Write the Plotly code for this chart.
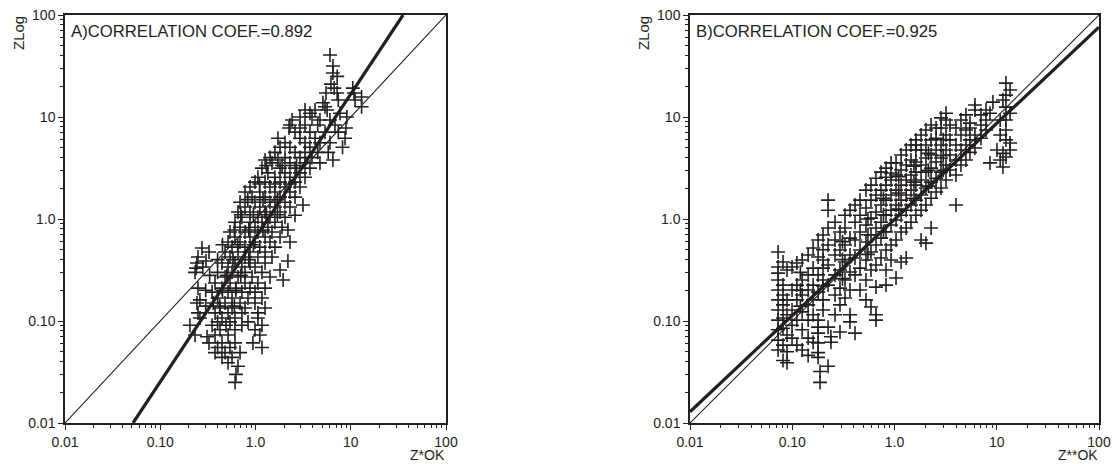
import plotly.graph_objects as go

# ---------------- Panel A data (Z*OK vs ZLog) : rows of equal ZLog ----------------
A_ZLOG = [40.5, 31.6, 27, 25, 21, 19.2, 17.2, 15.7, 14.7, 13.8, 12.6, 11.7, 10.9, 10.0,
          9.35, 8.36, 7.8, 7.1, 6.2, 5.6, 5.05, 4.5, 4.0, 3.79, 3.55, 3.15, 2.83, 2.57,
          2.3, 2.06, 1.84, 1.64, 1.46, 1.37, 1.31, 1.17, 1.09, 1.04, 0.93, 0.83, 0.78,
          0.745, 0.665, 0.595, 0.53, 0.52, 0.475, 0.424, 0.387, 0.37, 0.338, 0.33, 0.316,
          0.30, 0.27, 0.252, 0.236, 0.21, 0.192, 0.168, 0.161, 0.15, 0.134, 0.12, 0.107,
          0.098, 0.091, 0.082, 0.073, 0.07, 0.061, 0.055, 0.049, 0.044, 0.039, 0.036,
          0.030, 0.025,
          3.35, 2.2, 1.55, 1.1, 0.78, 0.56, 0.4, 0.28, 0.2, 0.14]
A_ZOK = [[6.05], [6.5], [6.5], [7.2], [6.2], [6.7, 10.5], [5.5, 7.2, 10.8], [13.0],
         [7.4, 11.1], [5.1], [5.37, 13.0], [5.65, 3.31, 4.22], [3.73, 7.71],
         [2.93, 3.92, 9.1], [2.42, 4.75, 6.05], [2.30, 3.31, 4.5, 6.83], [2.25, 2.93, 8.9],
         [2.60, 3.73, 5.37, 7.4], [1.72, 2.93, 4.22, 8.71], [2.04, 3.31, 4.75, 6.05],
         [1.81, 2.30, 3.73, 8.2], [1.60, 2.60, 3.31, 4.5, 5.8], [1.42, 2.04, 2.93, 3.92],
         [6.5, 1.26, 1.72], [1.49, 2.30, 3.31, 4.75], [1.17, 1.81, 2.60, 3.73],
         [1.35, 2.04, 2.93], [1.06, 1.60, 2.30, 3.31], [0.988, 1.26, 1.81, 2.60],
         [0.876, 1.42, 2.04, 2.93], [0.776, 1.11, 1.60, 2.30], [0.92, 1.26, 1.81, 2.60],
         [0.688, 0.988, 1.42, 2.04], [3.15], [0.776, 1.11, 1.60, 2.30],
         [0.655, 0.876, 1.26, 1.81], [2.60], [0.72, 1.06, 1.42, 2.04],
         [0.609, 0.876, 1.17, 1.60], [0.688, 0.988, 1.35, 1.90], [2.19],
         [0.54, 0.776, 1.06, 1.49], [0.609, 0.876, 1.26, 1.81],
         [0.515, 0.688, 0.988, 1.42, 2.30], [0.567, 0.776, 1.11, 1.60], [0.274],
         [0.325, 0.479, 0.655, 0.876, 1.26], [0.249, 0.54, 0.776, 1.06, 1.49],
         [0.302, 2.19], [0.243, 0.445, 0.609, 0.876, 1.26], [0.28, 0.515, 0.72, 0.988],
         [0.238], [1.81], [0.232, 0.40, 0.567, 0.776, 1.17], [0.479, 0.655, 0.92, 1.42],
         [1.95], [0.376, 0.54, 0.776, 1.06], [0.249, 0.445, 0.624, 0.876, 1.26],
         [0.35, 0.515, 0.72, 0.988], [0.40, 0.567, 0.834, 1.17], [0.261],
         [0.243, 0.36, 0.479, 0.688, 0.988], [0.424, 0.567, 0.776, 1.26],
         [0.249, 0.376, 0.515, 0.72, 1.06], [0.261, 0.445, 0.609, 1.06],
         [0.40, 0.54, 0.834], [0.205, 0.35, 0.49, 0.72, 1.17], [0.424, 0.609, 0.988],
         [0.232, 0.376, 0.515, 1.11], [0.31], [0.325, 0.445, 0.609, 0.94],
         [0.40, 0.54, 1.17], [0.376, 0.479, 0.688], [0.445, 0.567], [0.515], [0.655],
         [0.624], [0.61],
         [1.3, 1.9, 2.7], [1.1, 1.6, 2.3], [0.83, 1.2, 1.7], [0.7, 0.95, 1.3, 1.7],
         [0.6, 0.85, 1.2], [0.45, 0.65, 0.95], [0.4, 0.58, 0.85], [0.33, 0.5, 0.7],
         [0.3, 0.45, 0.62], [0.3, 0.42, 0.6]]

# ---------------- Panel B data (Z**OK vs ZLog) : columns of equal Z**OK ----------------
B_ZOK = [0.0727, 0.0812, 0.0889, 0.0995, 0.111, 0.125, 0.143, 0.160, 0.179, 0.187, 0.200,
         0.224, 0.239, 0.262, 0.293, 0.328, 0.367, 0.411, 0.460, 0.526, 0.589, 0.659, 0.738,
         0.826, 0.925, 1.035, 1.16, 1.30, 1.45, 1.62, 1.82, 2.03, 2.28, 2.55, 2.85, 3.19,
         3.49, 3.99, 4.47, 5.00, 5.47, 6.12, 7.01, 7.85, 8.59, 9.18, 10.05, 10.8, 11.5,
         12.3, 13.5,
         0.12, 0.2, 0.31, 0.55, 0.78, 1.1, 1.55, 2.15, 3.0]
B_ZLOG = [[0.475, 0.338, 0.295, 0.252, 0.201, 0.161, 0.128, 0.102, 0.082, 0.065, 0.052],
          [0.379, 0.225, 0.180, 0.144, 0.107, 0.085, 0.058, 0.041],
          [0.316, 0.161, 0.115, 0.073, 0.050, 0.039],
          [0.338, 0.201, 0.128, 0.091, 0.068],
          [0.37, 0.225, 0.161, 0.102, 0.058],
          [0.396, 0.252, 0.180, 0.123, 0.082, 0.052],
          [0.444, 0.283, 0.201, 0.144, 0.102, 0.068, 0.046],
          [0.52, 0.33, 0.225, 0.161, 0.115, 0.062],
          [0.424, 0.622, 0.283, 0.192, 0.102, 0.087, 0.076, 0.061, 0.049, 0.044],
          [0.032, 0.025],
          [0.697, 0.396, 0.252, 0.161, 0.128],
          [1.53, 1.22, 0.815, 0.556, 0.354, 0.225, 0.087, 0.036],
          [0.062, 0.070],
          [0.93, 0.622, 0.444, 0.283, 0.180, 0.115],
          [0.745, 0.497, 0.316, 0.21, 0.144, 0.078],
          [1.09, 0.815, 0.556, 0.379, 0.252, 0.168],
          [1.22, 0.65, 0.444, 0.302, 0.201, 0.115, 0.098],
          [1.37, 0.93, 0.622, 0.415, 0.283, 0.076],
          [1.53, 1.09, 0.745, 0.497, 0.33, 0.201],
          [1.92, 1.28, 0.873, 0.595, 0.396, 0.252, 0.161],
          [2.15, 1.53, 1.02, 0.697, 0.475, 0.316, 0.137],
          [2.51, 1.72, 1.17, 0.815, 0.556, 0.354, 0.215, 0.115, 0.102],
          [2.88, 1.92, 1.37, 0.93, 0.65, 0.415],
          [3.15, 2.57, 2.15, 1.53, 1.09, 0.745, 0.497, 0.316, 0.225],
          [3.55, 2.82, 2.41, 1.72, 1.22, 0.873, 0.556, 0.396],
          [3.55, 2.70, 1.92, 1.37, 0.977, 0.622, 0.264],
          [4.24, 3.02, 2.15, 1.53, 1.09, 0.745, 0.379],
          [4.75, 3.38, 2.41, 1.72, 1.22, 0.815, 0.415],
          [5.31, 3.79, 2.70, 1.92, 1.37, 0.93],
          [5.96, 5.31, 4.75, 3.62, 2.88, 2.15, 1.53, 1.09],
          [6.67, 4.75, 3.38, 2.41, 1.72, 1.22, 0.622],
          [7.46, 5.31, 3.96, 2.88, 2.01, 1.37, 0.58],
          [8.36, 5.96, 4.24, 3.15, 2.30, 1.60, 0.815],
          [7.8, 6.2, 4.75, 3.62, 2.51, 1.84],
          [9.8, 7.8, 5.31, 3.96, 2.88, 2.01],
          [10.9, 9.35, 6.67, 4.75, 3.38, 2.41],
          [8.36, 5.96, 4.24, 3.02],
          [7.8, 5.31, 3.79, 2.70, 1.37],
          [9.35, 6.67, 4.75, 3.38],
          [10.5, 7.46, 5.31, 3.79],
          [8.7, 7.8, 5.96, 4.5],
          [13.1, 11.7, 6.67, 4.96],
          [10.5, 8.36, 6.2],
          [11.7, 9.35, 7.46],
          [10.9, 3.55],
          [14.0],
          [4.75],
          [9.35, 6.67, 3.79],
          [14.7, 4.4, 3.23],
          [21.5, 16.4, 12.5, 9.35, 7.46, 5.96, 4.05],
          [18.4, 10.9, 5.56, 4.75],
          [0.3, 0.2, 0.14], [0.5, 0.33, 0.22], [0.6, 0.4, 0.26], [1.0, 0.7, 0.45],
          [1.6, 1.1, 0.75], [2.6, 1.8, 1.25], [3.3, 2.3, 1.6], [4.4, 3.0, 2.1],
          [6.0, 4.2, 3.0]]

# reference (1:1) and regression lines, end points
ONE_TO_ONE = [0.01, 100]
A_FIT_X = [0.0518, 35.4]
A_FIT_Y = [0.01, 100]
B_FIT_X = [0.01, 100]
B_FIT_Y = [0.0129, 76]

TITLES = ["A)CORRELATION COEF.=0.892", "B)CORRELATION COEF.=0.925"]
XLABELS = ["Z*OK", "Z**OK"]
YLABEL = "ZLog"
TICKVALS = [0.01, 0.1, 1, 10, 100]
TICKTEXT = ["0.01", "0.10", "1.0", "10", "100"]

# flatten
a_x, a_y = [], []
for yv, xs in zip(A_ZLOG, A_ZOK):
    for xv in xs:
        a_x.append(xv)
        a_y.append(yv)
b_x, b_y = [], []
for xv, ys in zip(B_ZOK, B_ZLOG):
    for yv in ys:
        b_x.append(xv)
        b_y.append(yv)

INK = "#231f20"
FONT = "Liberation Sans, Arial, sans-serif"
OFF = 8                      # default page body margin in the HTML page
W, H = 1119 - OFF, 464 - OFF

def px(v):                   # page pixel -> figure pixel
    return v - OFF

fig = go.Figure()

marker = dict(symbol="cross-thin", size=10, line=dict(width=1.6, color=INK), color=INK)
fig.add_trace(go.Scatter(x=a_x, y=a_y, mode="markers", marker=marker, xaxis="x", yaxis="y",
                         showlegend=False))
fig.add_trace(go.Scatter(x=b_x, y=b_y, mode="markers", marker=marker, xaxis="x2", yaxis="y2",
                         showlegend=False))

for xa, ya, fx, fy in [("x", "y", A_FIT_X, A_FIT_Y), ("x2", "y2", B_FIT_X, B_FIT_Y)]:
    fig.add_trace(go.Scatter(x=ONE_TO_ONE, y=ONE_TO_ONE, mode="lines",
                             line=dict(color=INK, width=1.1), xaxis=xa, yaxis=ya,
                             showlegend=False))
    fig.add_trace(go.Scatter(x=fx, y=fy, mode="lines", line=dict(color=INK, width=3.2),
                             xaxis=xa, yaxis=ya, showlegend=False))

minor_vals = [m * 10.0 ** e for e in range(-2, 2) for m in range(2, 10)]

def axis(domain, anchor):
    return dict(type="log", range=[-2, 2], domain=domain, anchor=anchor, automargin=False,
                showline=True, mirror=True, linecolor=INK, linewidth=1.5,
                ticks="outside", ticklen=5, tickwidth=1.3, tickcolor=INK,
                tickmode="array", tickvals=TICKVALS, ticktext=TICKTEXT,
                tickfont=dict(family=FONT, size=14, color=INK),
                ticklabeloverflow="allow",
                showgrid=False, zeroline=False,
                minor=dict(tickmode="array", tickvals=minor_vals, ticks="outside",
                           ticklen=3, tickwidth=1, tickcolor=INK, showgrid=False))

ydom = [1 - px(423) / H, 1 - px(15) / H]
xa_dom = [px(65) / W, px(446) / W]
xb_dom = [px(690) / W, px(1099) / W]

fig.update_layout(
    width=W, height=H, margin=dict(l=0, r=0, t=0, b=0, pad=0, autoexpand=False),
    paper_bgcolor="white", plot_bgcolor="white",
    xaxis=axis(xa_dom, "y"), yaxis=axis(ydom, "x"),
    xaxis2=axis(xb_dom, "y2"), yaxis2=axis(ydom, "x2"),
)

ann = []
for i, (x0, x1) in enumerate([(65, 446), (690, 1099)]):
    ann.append(dict(text=TITLES[i], x=px(x0 + 4) / W, y=1 - px(32) / H,
                    xref="paper", yref="paper", xanchor="left", yanchor="middle",
                    showarrow=False, font=dict(family=FONT, size=16.7, color=INK)))
    ann.append(dict(text=XLABELS[i], x=px(x1 + 1) / W, y=1 - px(455) / H,
                    xref="paper", yref="paper", xanchor="right", yanchor="middle",
                    showarrow=False, font=dict(family=FONT, size=14, color=INK)))
    ann.append(dict(text=YLABEL, x=px(x0 - 47) / W, y=1 - px(33) / H,
                    xref="paper", yref="paper", xanchor="center", yanchor="middle",
                    textangle=-90, showarrow=False,
                    font=dict(family=FONT, size=15, color=INK)))
fig.update_layout(annotations=ann)

fig.write_html("out.html")
